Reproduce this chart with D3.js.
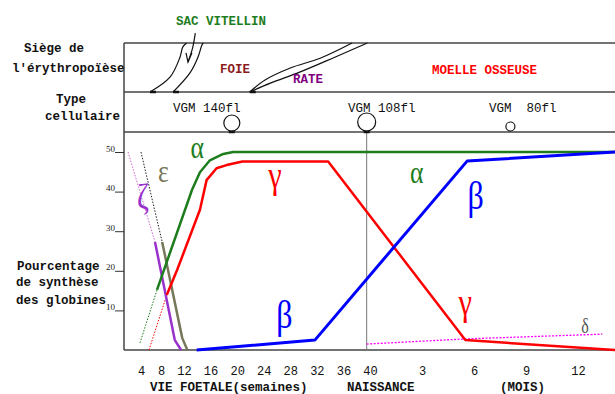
<!DOCTYPE html>
<html>
<head>
<meta charset="utf-8">
<script src="https://cdn.jsdelivr.net/npm/d3@7"></script>
<style>
body { margin: 0; background: #fff; }
text { font-family: "Liberation Mono", monospace; white-space: pre; }
.greek { font-family: "Liberation Serif", serif; }
</style>
</head>
<body>
<div id="chart"></div>
<script>
// ---- data ----
const weekTicks = [4, 8, 12, 16, 20, 24, 28, 32, 36, 40];
const monthTicks = [3, 6, 9, 12];
const pctTicks = [10, 20, 30, 40, 50];
const birthWeek = 39.5;

// w = weeks of foetal life, m = months after birth, v = % of synthesis
const alphaDots = [{w: 3.8, v: 1.8}, {w: 7.2, v: 15.2}];
const alphaLine = [{w: 7.2, v: 15.2}, {w: 13.2, v: 40.4}, {w: 14.4, v: 44.9}, {w: 15.9, v: 47.9}, {w: 17.9, v: 49.5}, {w: 19.4, v: 50}, {m: 14.2, v: 50}];
const gammaDots = [{w: 5.6, v: 0}, {w: 9, v: 13.9}];
const gammaLine = [{w: 9, v: 13.9}, {w: 10.8, v: 20.2}, {w: 14.4, v: 35.4}, {w: 15.4, v: 42.9}, {w: 16.9, v: 45.9}, {w: 18.4, v: 46.7}, {w: 20.8, v: 47.6}, {w: 33.7, v: 47.6}, {m: 5.5, v: 2.5}, {m: 14.2, v: 0}];
const betaLine = [{w: 13.9, v: 0}, {w: 31.7, v: 2.5}, {m: 5.6, v: 47.7}, {m: 14.2, v: 50}];
const zetaDots = [{w: 1.4, v: 50}, {w: 6.8, v: 27.3}];
const zetaLine = [{w: 6.8, v: 27.3}, {w: 10.4, v: 2.5}, {w: 11.5, v: 0}];
const epsDots = [{w: 4, v: 50}, {w: 8.2, v: 27.3}];
const epsLine = [{w: 8.2, v: 27.3}, {w: 11.7, v: 3}, {w: 12.5, v: 0}];
const deltaLine = [{w: 39.5, v: 1.5}, {m: 5.5, v: 2.8}, {m: 13.4, v: 4}];

const greekLabels = [
    {txt: "α", w: 14.0, v: 48.5, color: "#1d7d1d", size: 32},
    {txt: "ε", w: 8.4, v: 42.4, color: "#77775a", size: 32},
    {txt: "ζ", w: 4.4, v: 35.5, color: "#9932cc", size: 36},
    {txt: "γ", w: 25.7, v: 40.8, color: "#ff0000", size: 38},
    {txt: "β", w: 27.1, v: 5.5, color: "#0000ff", size: 40},
    {txt: "α", m: 2.7, v: 42.2, color: "#1d7d1d", size: 32},
    {txt: "β", m: 6.1, v: 35.6, color: "#0000ff", size: 40},
    {txt: "γ", m: 5.5, v: 8.8, color: "#ff0000", size: 38},
    {txt: "δ", m: 12.4, v: 4.3, color: "#555555", size: 20}
];

// cellular type row
const vgmLabels = ["VGM 140fl", "VGM 108fl", "VGM  80fl"];
const vgmCells = [{w: 19.2, r: 8}, {w: 39.5, r: 9}, {m: 8.1, r: 4.5}];

// erythropoiesis sites (weeks, fraction of band height)
const sacLeft = [{w: 5.8, f: 0}, {w: 9.6, f: 0.31}, {w: 11.3, f: 0.71}, {w: 11.8, f: 0.92}, {w: 12.4, f: 1}];
const sacRight = [{w: 10.1, f: 0}, {w: 12.9, f: 0.39}, {w: 14.1, f: 0.71}, {w: 14.7, f: 0.96}, {w: 14.9, f: 1}];
const rateUpper = [{w: 21.9, f: 0}, {w: 24.2, f: 0.245}, {w: 28.0, f: 0.49}, {w: 32.5, f: 0.69}, {w: 37.3, f: 1}];
const rateLower = [{w: 21.9, f: 0}, {w: 25.0, f: 0.18}, {w: 29.5, f: 0.41}, {w: 34.7, f: 0.71}, {w: 39.6, f: 1}];
const sacArrow = [{w: 13.7, f: 1.2}, {w: 13.3, f: 0.9}, {w: 12.6, f: 0.61}];
const sacArrowHead = [{w: 12.3, f: 0.8}, {w: 12.6, f: 0.61}, {w: 13.2, f: 0.8}];

// ---- chart ----
const W = 615, H = 394;
const plotLeft = 124, plotRight = 615, plotBottom = 350;
const rowTop = 43, rowMid = 92, plotTop = 132;

const svg = d3.select("#chart").append("svg")
    .attr("width", W)
    .attr("height", H);

const xWeek = d3.scaleLinear().domain([4, 8, 12, 40]).range([141, 161, 184, 370]);
const xMonth = d3.scaleLinear().domain([0, 12]).range([370, 578]);
const y = d3.scaleLinear().domain([0, 50]).range([plotBottom, 152]);
const band = d3.scaleLinear().domain([0, 1]).range([rowMid, rowTop]);
const px = d => d.m !== undefined ? xMonth(d.m) : xWeek(d.w);

const line = d3.line().x(px).y(d => y(d.v));
const bandLine = d3.line().x(px).y(d => band(d.f)).curve(d3.curveCatmullRom);

svg.append("clipPath").attr("id", "clip")
    .append("rect")
    .attr("x", plotLeft).attr("y", plotTop)
    .attr("width", plotRight - plotLeft).attr("height", plotBottom - plotTop + 3);

// frame
const frame = svg.append("g").attr("stroke", "#444").attr("stroke-width", 1.5);
[rowTop, rowMid, plotTop].forEach(yy => {
    frame.append("line").attr("x1", plotLeft).attr("x2", plotRight).attr("y1", yy).attr("y2", yy);
});
frame.append("line").attr("x1", plotLeft).attr("x2", plotLeft).attr("y1", rowTop).attr("y2", plotBottom);
frame.append("line").attr("x1", plotLeft).attr("x2", plotRight).attr("y1", plotBottom).attr("y2", plotBottom);

// birth line
svg.append("line")
    .attr("x1", xWeek(birthWeek)).attr("x2", xWeek(birthWeek))
    .attr("y1", plotTop).attr("y2", plotBottom)
    .attr("stroke", "#777").attr("stroke-width", 1);

// y axis
const yAxis = svg.append("g")
    .attr("transform", `translate(${plotLeft},0)`)
    .call(d3.axisLeft(y).tickValues(pctTicks).tickSize(9).tickPadding(0));
yAxis.select(".domain").remove();
yAxis.selectAll("line").attr("stroke", "#333");
yAxis.selectAll("text")
    .attr("dy", "0")
    .attr("y", -1)
    .attr("x", -9)
    .style("font-family", "Liberation Serif, serif")
    .style("font-size", "9px")
    .attr("fill", "#222");

// x axes
const xAxisW = svg.append("g")
    .attr("transform", `translate(0,${plotBottom})`)
    .call(d3.axisBottom(xWeek).tickValues(weekTicks).tickSize(0).tickPadding(16));
const xAxisM = svg.append("g")
    .attr("transform", `translate(0,${plotBottom})`)
    .call(d3.axisBottom(xMonth).tickValues(monthTicks).tickSize(0).tickPadding(16));
[xAxisW, xAxisM].forEach(ax => {
    ax.select(".domain").remove();
    ax.selectAll("text")
        .style("font-family", "Liberation Mono, monospace")
        .style("font-size", "12px")
        .attr("fill", "#111");
});

// curves
const curves = svg.append("g").attr("clip-path", "url(#clip)").attr("fill", "none");
const dotted = [
    [alphaDots, "#1d7d1d"], [gammaDots, "#ff0000"], [zetaDots, "#cc66cc"], [epsDots, "#222"]
];
dotted.forEach(([d, c]) => {
    curves.append("path").attr("d", line(d))
        .attr("stroke", c).attr("stroke-width", 1).attr("stroke-dasharray", "1.5,1.5");
});
curves.append("path").attr("d", line(deltaLine))
    .attr("stroke", "#ff00ff").attr("stroke-width", 1.3).attr("stroke-dasharray", "2,1.5");

const solid = [
    [zetaLine, "#9932cc", 2.5], [epsLine, "#77775a", 2.5],
    [alphaLine, "#1d7d1d", 2.5], [gammaLine, "#ff0000", 2.5], [betaLine, "#0000ff", 3]
];
solid.forEach(([d, c, sw]) => {
    curves.append("path").attr("d", line(d))
        .attr("stroke", c).attr("stroke-width", sw).attr("stroke-linejoin", "round");
});

// greek letters
svg.selectAll("text.greek")
    .data(greekLabels)
    .join("text")
    .attr("class", "greek")
    .attr("transform", d => `translate(${px(d)},${y(d.v)}) scale(0.8,1)`)
    .attr("text-anchor", "middle")
    .attr("fill", d => d.color)
    .style("font-size", d => d.size + "px")
    .text(d => d.txt);

// erythropoiesis sites
const sites = svg.append("g").attr("fill", "none").attr("stroke", "#111").attr("stroke-width", 1.2);
[sacLeft, sacRight, rateUpper, rateLower, sacArrow].forEach(d => {
    sites.append("path").attr("d", bandLine(d));
});
sites.append("path").attr("d", d3.line().x(px).y(d => band(d.f))(sacArrowHead));
// thick feet where the sites meet the frame
[sacLeft, sacRight, rateUpper].forEach(d => {
    sites.append("line")
        .attr("x1", px(d[0])).attr("x2", px(d[0]) + 6)
        .attr("y1", rowMid).attr("y2", rowMid)
        .attr("stroke-width", 2.5);
});

const bold = {"font-size": "12.5px", "font-weight": "bold"};
const addText = (x, yy, txt, color, style) => {
    const t = svg.append("text").attr("x", x).attr("y", yy).attr("fill", color).text(txt);
    Object.entries(style).forEach(([k, v]) => t.style(k, v));
    return t;
};
addText(176, 25, "SAC VITELLIN", "#1d7d1d", bold);
addText(220, 73, "FOIE", "#8b1a1a", bold);
addText(293, 83, "RATE", "#800080", bold);
addText(432, 74, "MOELLE OSSEUSE", "#ff0000", bold);

// VGM row
const vgmX = [173, 348, 489];
vgmLabels.forEach((t, i) => addText(vgmX[i], 112, t, "#111", {"font-size": "12.5px"}));
svg.selectAll("circle.cell")
    .data(vgmCells)
    .join("circle")
    .attr("class", "cell")
    .attr("cx", px)
    .attr("cy", d => plotTop - 1 - d.r)
    .attr("r", d => d.r)
    .attr("fill", "#fff")
    .attr("stroke", "#111")
    .attr("stroke-width", 1.2);
svg.selectAll("line.cellfoot")
    .data(vgmCells.slice(0, 2))
    .join("line")
    .attr("class", "cellfoot")
    .attr("x1", d => px(d) - 3).attr("x2", d => px(d) + 3)
    .attr("y1", plotTop).attr("y2", plotTop)
    .attr("stroke", "#111").attr("stroke-width", 2.5);

// left titles
addText(24, 52, "Siège de", "#111", bold);
addText(12, 72, "l'érythropoïèse", "#111", bold);
addText(56, 103, "Type", "#111", bold);
addText(45, 120, "cellulaire", "#111", bold);
addText(17, 270, "Pourcentage", "#111", bold);
addText(16, 286, "de synthèse", "#111", bold);
addText(16, 304, "des globines", "#111", bold);

// bottom titles
addText(150, 391, "VIE FOETALE(semaines)", "#111", bold);
addText(347, 391, "NAISSANCE", "#111", bold);
addText(500, 391, "(MOIS)", "#111", bold);
</script>
</body>
</html>
